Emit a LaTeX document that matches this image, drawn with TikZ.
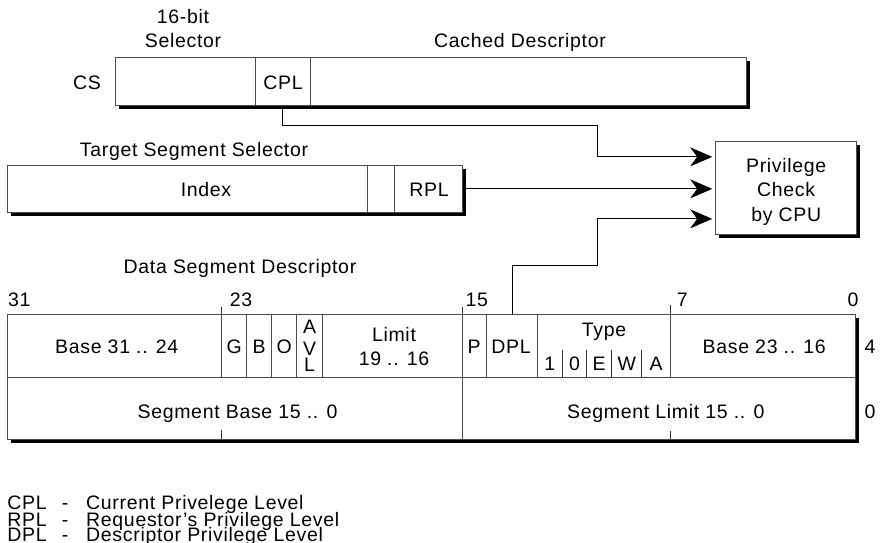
\documentclass[tikz,border=0pt]{standalone}
\usepackage{fontspec}
\setmainfont{Liberation Sans}[LetterSpace=3.5]
\usetikzlibrary{arrows.meta,calc,shadows}
\begin{document}
\begin{tikzpicture}[x=1pt,y=-1pt,
  font=\fontsize{19.5}{24}\selectfont,
  frame/.style={draw=black!70, line width=0.9pt},
  regbox/.style={frame, fill=white, inner sep=0pt, outer sep=0pt, anchor=north west,
    drop shadow={shadow xshift=3.5pt, shadow yshift=-3.5pt, fill=black, opacity=1}},
  cell/.style={frame, inner sep=0pt, outer sep=0pt, anchor=north west},
  lbl/.style={inner sep=0pt, anchor=base},
  lblw/.style={inner sep=0pt, anchor=base west},
  conn/.style={draw=black, line width=0.9pt, shorten >=3.5pt,
    -{Stealth[length=22pt,width=19pt,inset=7pt]}},
  tick/.style={draw=black!80, line width=0.8pt}]
\useasboundingbox (0,0) rectangle (884,543);

% ---------- CS register ----------
\node[regbox, minimum width=631pt, minimum height=48pt] (cs) at (115.7,57.7) {};
\node[cell, minimum width=54.3pt, minimum height=48pt] (cpl) at (255.7,57.7) {};
\node[lbl] (t16a) at (183,23.5) {16-bit};
\node[lbl] (t16b) at (183,48) {Selector};
\node[lbl] (tcd) at (520,48) {Cached Descriptor};
\node[lbl] (tcs) at (87,89.3) {CS};
\node[lbl] (tcpl) at (283,90) {CPL};

% ---------- Target segment selector ----------
\node[regbox, minimum width=455.4pt, minimum height=47.7pt] (tss) at (7.3,165) {};
\draw[frame] (367.7,165) -- (367.7,212.7);
\node[cell, minimum width=68.7pt, minimum height=47.7pt] (rpl) at (394,165) {};
\node[lbl] (ttss) at (194,156.7) {Target Segment Selector};
\node[lbl] (tidx) at (206,196) {Index};
\node[lbl] (trpl) at (429,196) {RPL};

% ---------- Privilege check ----------
\node[regbox, minimum width=141pt, minimum height=92.3pt] (priv) at (715.7,141.7) {};
\node[lbl] (tp1) at (786.2,172) {Privilege};
\node[lbl] (tp2) at (786.2,196.5) {Check};
\node[lbl] (tp3) at (786.2,221) {by CPU};

% ---------- Data segment descriptor ----------
\node[regbox, minimum width=847.7pt, minimum height=125pt] (dsd) at (7.3,314.3) {};
\draw[frame] (7.3,377.3) -- (855,377.3);
\foreach \x in {246.7,271.7,296.7,322.3,537.3}
  \draw[frame] (\x,314.3) -- (\x,377.3);
\draw[frame] (221.7,314.3) -- (221.7,377.3);
\draw[tick] (221.7,306.7) -- (221.7,314.3);
\draw[tick] (221.7,430) -- (221.7,439.3);
\draw[frame] (462.7,314.3) -- (462.7,439.3);
\draw[tick] (462.7,306.7) -- (462.7,314.3);
\draw[frame] (670.7,314.3) -- (670.7,377.3);
\draw[tick] (670.7,305) -- (670.7,314.3);
\draw[tick] (670.7,430.7) -- (670.7,439.3);
\node[cell, minimum width=50.6pt, minimum height=63pt] (dpl) at (486.7,314.3) {};
\foreach \x in {562.3,586.7,611.7,641.7}
  \draw[tick] (\x,350) -- (\x,377.3);

\node[lbl] (tdsd) at (240,273) {Data Segment Descriptor};
\node[lblw] (b31) at (8,306) {31};
\node[lbl] (b23) at (241,306) {23};
\node[lbl] (b15) at (476.7,306.5) {15};
\node[lbl] (b7) at (682.3,306.5) {7};
\node[lbl] (b0) at (853,306.5) {0};

\node[lbl] (tb31) at (116.7,353) {Base 31 .. 24};
\node[lbl] (tg) at (234.2,353) {G};
\node[lbl] (tb) at (259.2,353) {B};
\node[lbl] (to) at (284.2,353) {O};
\node[lbl] (ta) at (309.5,333.3) {A};
\node[lbl] (tv) at (309.5,355) {V};
\node[lbl] (tl) at (309.5,371.7) {L};
\node[lbl] (tlim1) at (394,341.7) {Limit};
\node[lbl] (tlim2) at (394,365) {19 .. 16};
\node[lbl] (tpp) at (474.2,353) {P};
\node[lbl] (tdpl) at (511,353) {DPL};
\node[lbl] (ttype) at (604,336) {Type};
\node[lbl] (ty1) at (549.8,370) {1};
\node[lbl] (ty0) at (574.5,370) {0};
\node[lbl] (tye) at (599.2,370) {E};
\node[lbl] (tyw) at (626.7,370) {W};
\node[lbl] (tya) at (656.2,370) {A};
\node[lbl] (tb23) at (764.2,353) {Base 23 .. 16};
\node[lbl] (r4) at (870,353) {4};
\node[lbl] (tsb) at (237.5,418) {Segment Base 15 .. 0};
\node[lbl] (tsl) at (665.8,418) {Segment Limit 15 .. 0};
\node[lbl] (r0) at (870,418) {0};

% ---------- connectors ----------
\coordinate (bend1) at (597,125);
\coordinate (bend2) at (597,265);
\draw[conn] (cpl.south) |- (bend1) |- ([yshift=31pt]priv.west);
\draw[conn] (rpl.east) -- (rpl.east -| priv.west);
\draw[conn] (dpl.north) |- (bend2) |- ([yshift=-31pt]priv.west);

% ---------- legend ----------
\node[lblw] (lc1) at (7.3,509.5) {CPL};
\node[lbl] (lc2) at (65,509.5) {-};
\node[lblw] (lc3) at (86,509.5) {Current Privelege Level};
\node[lblw] (lr1) at (7.3,526) {RPL};
\node[lbl] (lr2) at (65,526) {-};
\node[lblw] (lr3) at (86,526) {Requestor's Privilege Level};
\node[lblw] (ld1) at (7.3,541.5) {DPL};
\node[lbl] (ld2) at (65,541.5) {-};
\node[lblw] (ld3) at (86,541.5) {Descriptor Privilege Level};
\end{tikzpicture}
\end{document}
